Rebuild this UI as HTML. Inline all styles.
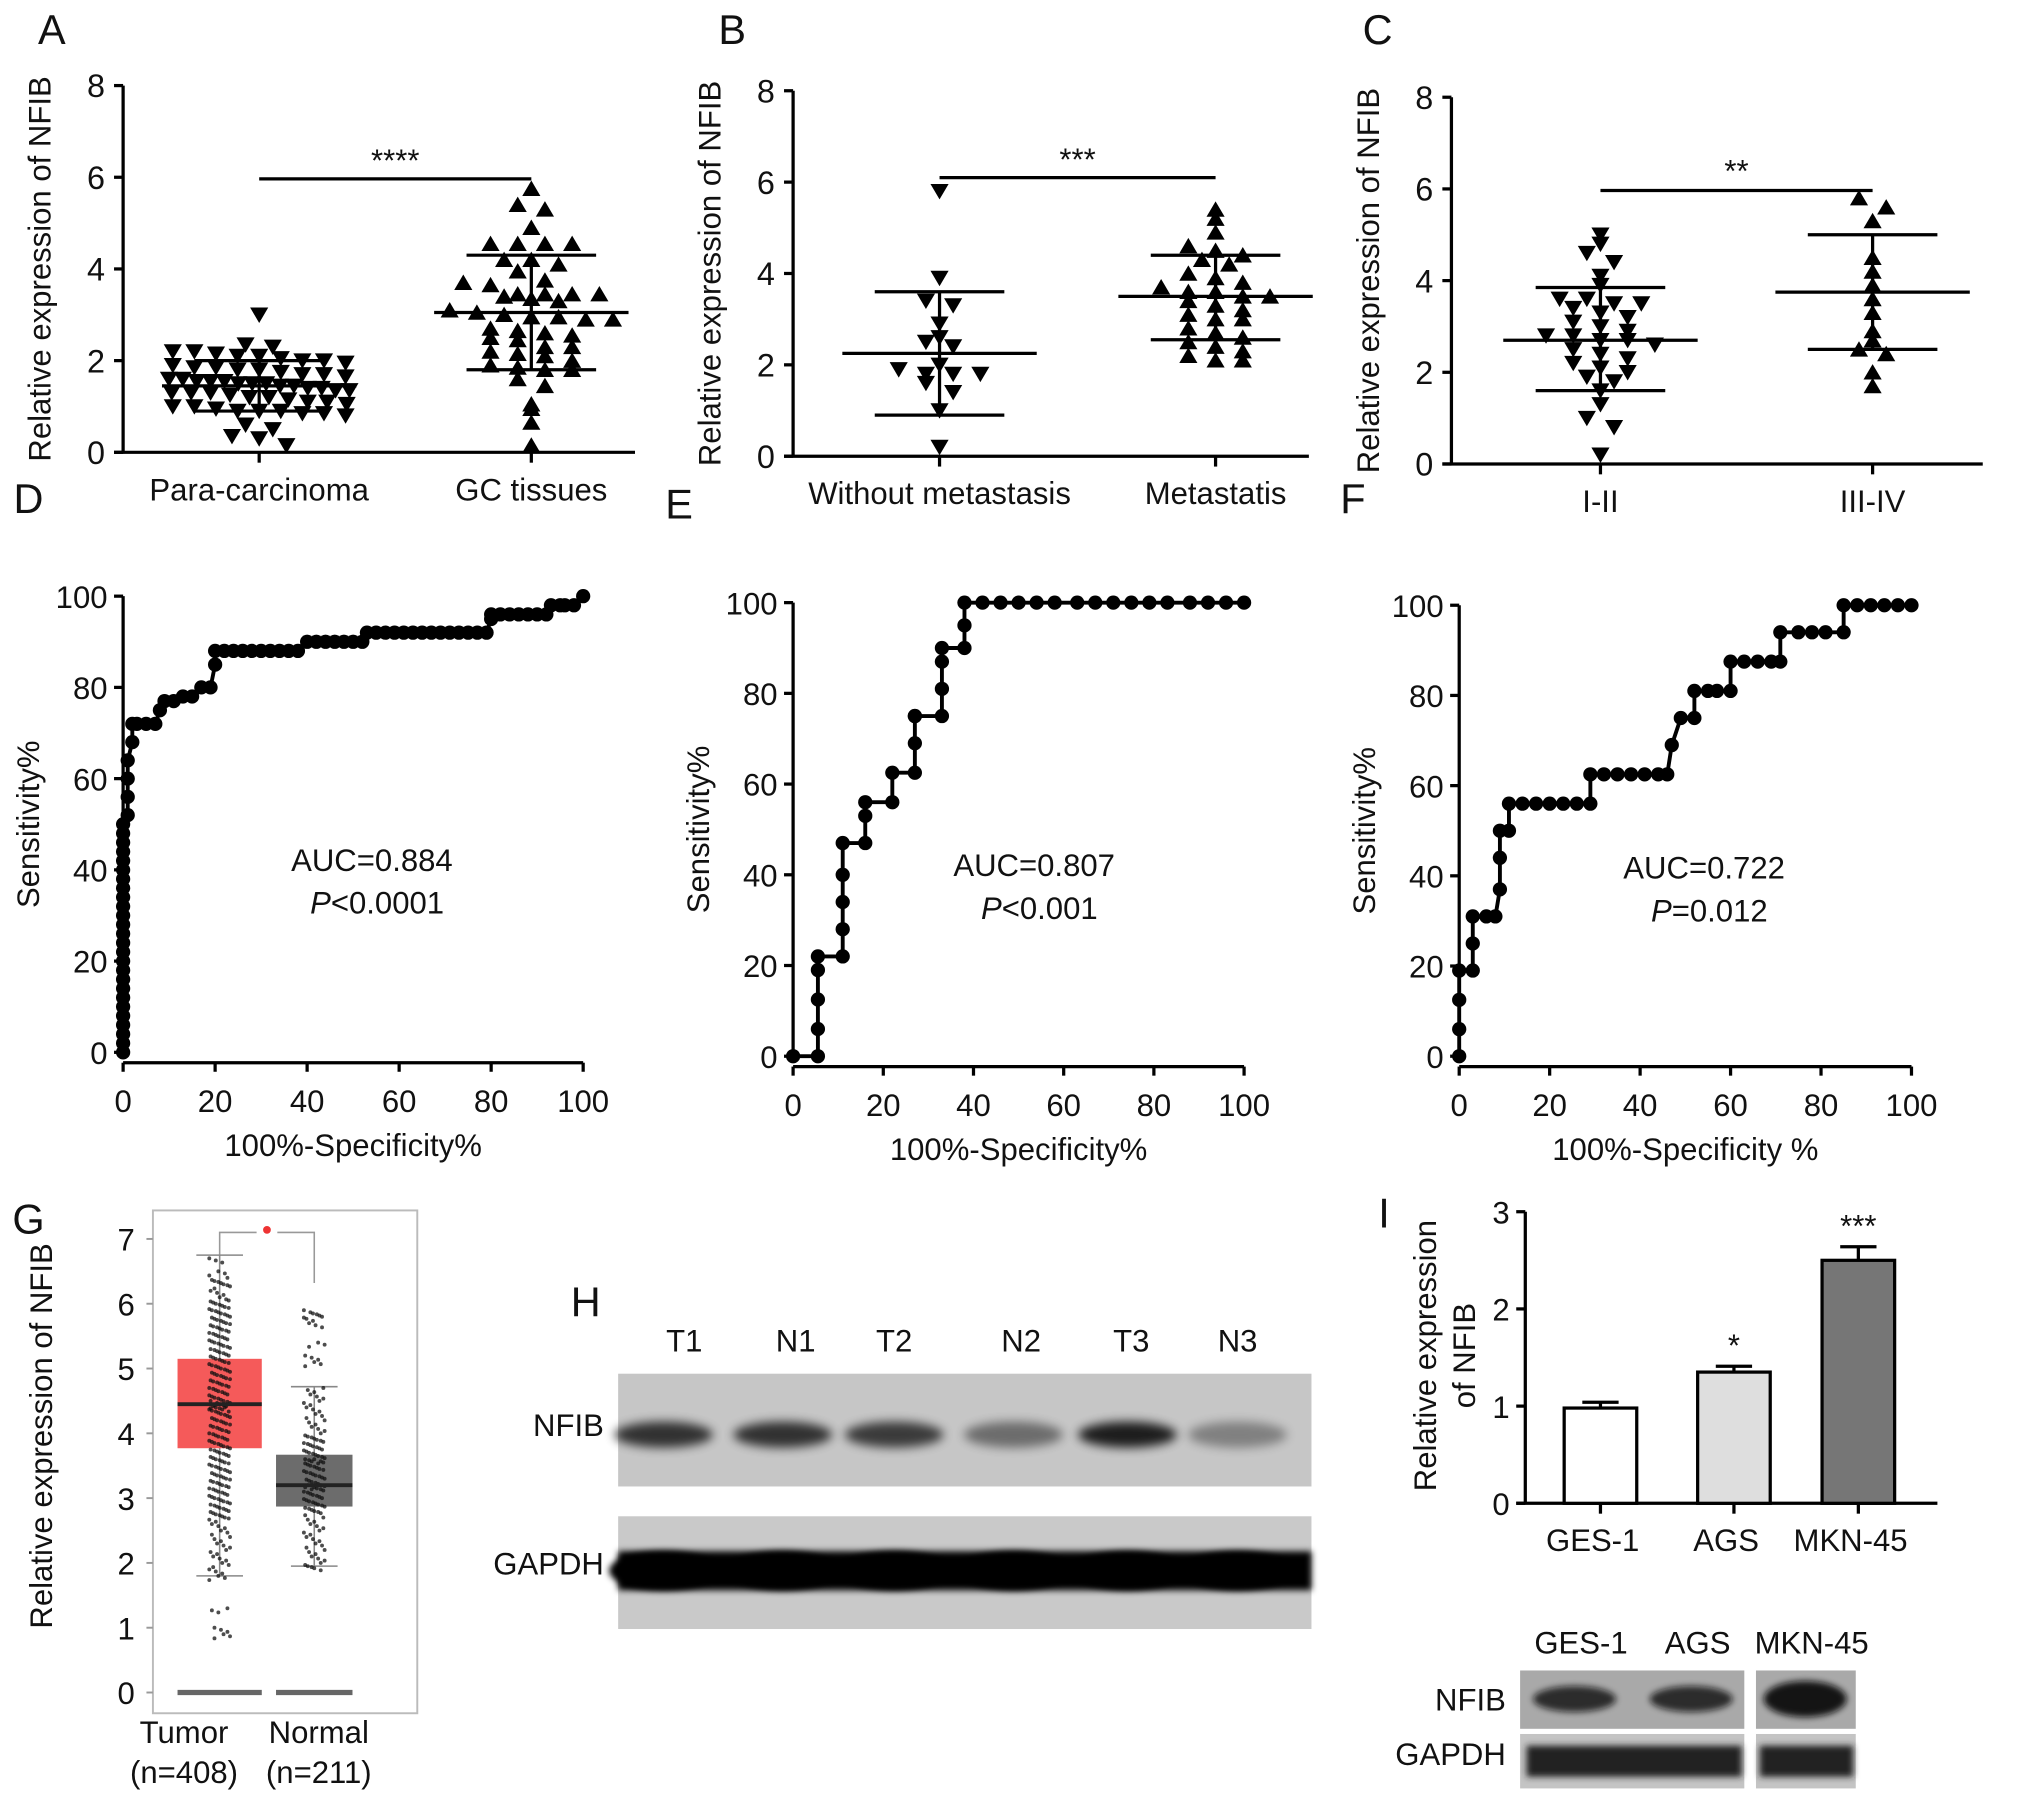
<!DOCTYPE html>
<html><head><meta charset="utf-8">
<style>
html,body{margin:0;padding:0;background:#fff;}
svg{display:block;font-family:"Liberation Sans",Arial,sans-serif;}
</style></head>
<body>
<svg id="fig" width="2032" height="1804" viewBox="0 0 1568 1392" xmlns="http://www.w3.org/2000/svg">
<defs>
<filter id="blur3" x="-20%" y="-50%" width="140%" height="200%"><feGaussianBlur stdDeviation="4"/></filter>
<filter id="blur2" x="-20%" y="-50%" width="140%" height="200%"><feGaussianBlur stdDeviation="2.5"/></filter>
</defs>
</svg>
<script>
// ---------- DATA ----------
const scatterCatsA = ["Para-carcinoma","GC tissues"];
const paraValues = [3.0,2.35,2.3,2.2,2.2,2.15,2.1,2.1,2.05,2.0,2.0,1.95,1.9,1.85,1.85,1.8,1.8,1.75,1.7,1.7,1.65,1.6,1.6,1.55,1.55,1.55,1.5,1.5,1.5,1.45,1.45,1.4,1.4,1.35,1.35,1.3,1.3,1.3,1.25,1.2,1.2,1.15,1.1,1.1,1.05,1.0,1.0,0.95,0.9,0.9,0.9,0.85,0.85,0.8,0.6,0.5,0.35,0.3,0.15];
const gcValues = [5.75,5.4,5.3,4.9,4.55,4.55,4.55,4.55,4.2,4.2,4.1,3.95,3.75,3.7,3.65,3.45,3.45,3.45,3.45,3.4,3.35,3.3,3.1,3.05,3.0,2.95,2.95,2.9,2.9,2.7,2.65,2.6,2.55,2.5,2.45,2.3,2.3,2.2,2.15,2.1,2.0,1.9,1.85,1.8,1.8,1.6,1.45,1.05,0.95,0.65,0.15];
const statsA = [[1.45,2.0,0.9],[3.05,4.3,1.8]];
const scatterCatsB = ["Without metastasis","Metastatis"];
const noMetValues = [5.8,3.9,3.4,3.3,2.9,2.6,2.5,2.4,2.0,1.9,1.8,1.8,1.8,1.6,1.4,1.0,0.2];
const metValues = [5.4,5.2,4.9,4.6,4.5,4.4,4.3,4.2,4.0,3.9,3.8,3.7,3.6,3.6,3.5,3.5,3.4,3.3,3.2,3.1,3.0,3.0,2.8,2.7,2.6,2.5,2.4,2.3,2.2,2.1,2.1];
const statsB = [[2.25,3.6,0.9],[3.5,4.4,2.55]];
const scatterCatsC = ["I-II","III-IV"];
const stage12Values = [5.0,4.8,4.6,4.4,4.1,3.9,3.6,3.6,3.5,3.5,3.4,3.3,3.2,3.1,3.0,2.9,2.8,2.8,2.7,2.7,2.6,2.5,2.4,2.3,2.2,2.1,2.0,1.9,1.8,1.6,1.3,1.0,0.8,0.2];
const stage34Values = [5.8,5.6,5.3,4.5,4.2,3.9,3.6,3.3,2.9,2.7,2.5,2.4,2.0,1.7];
const statsC = [[2.7,3.85,1.6],[3.75,5.0,2.5]];
const scatterTicks = [0,2,4,6,8];

const rocTicks = [0,20,40,60,80,100];
const rocDx = [0,0,0,0,0,0,0,0,0,0,0,0,0,0,0,0,0,0,0,0,0,0,0,0,0,0,1,1,1,1,2,2,3,5,7,8,9,11,13,15,17,19,20,20,22,24,26,28,30,32,34,36,38,40,42,44,46,48,50,52,53,55,57,59,61,63,65,67,69,71,73,75,77,79,80,80,82,84,86,88,90,92,93,95,96,98,100];
const rocDy = [0,2,4,6,8,10,12,14,16,18,20,22,24,26,28,30,32,34,36,38,40,42,44,46,48,50,52,56,60,64,68,72,72,72,72,75,77,77,78,78,80,80,85,88,88,88,88,88,88,88,88,88,88,90,90,90,90,90,90,90,92,92,92,92,92,92,92,92,92,92,92,92,92,92,95,96,96,96,96,96,96,96,98,98,98,98,100];
const rocEx = [0,5.5,5.5,5.5,5.5,5.5,11,11,11,11,11,16,16,16,22,22,27,27,27,27,33,33,33,33,38,38,38,42,46,50,54,58,63,67,71,75,79,83,88,92,96,100];
const rocEy = [0,0,6,12.5,19,22,22,28,34,40,47,47,53,56,56,62.5,62.5,69,75,75,75,81,87,90,90,95,100,100,100,100,100,100,100,100,100,100,100,100,100,100,100,100];
const rocFx = [0,0,0,0,3,3,3,6,8,9,9,9,11,11,14,17,20,23,26,29,29,32,35,38,41,44,46,47,49,52,52,55,57,60,60,63,66,69,71,71,75,78,81,85,85,88,91,94,97,100];
const rocFy = [0,6,12.5,19,19,25,31,31,31,37,44,50,50,56,56,56,56,56,56,56,62.5,62.5,62.5,62.5,62.5,62.5,62.5,69,75,75,81,81,81,81,87.5,87.5,87.5,87.5,87.5,94,94,94,94,94,100,100,100,100,100,100];

const boxCats = ["Tumor","Normal"];
const boxStats = [[1.8,3.77,4.45,5.15,6.75],[1.95,2.87,3.2,3.67,4.72]];
const tumorPts = [6.7,6.5,6.4,6.35,6.3,6.2,6.1,6.05,6.0,5.95,5.9,5.85,5.8,5.75,5.7,5.65,5.6,5.55,5.5,5.45,5.4,5.35,5.3,5.25,5.2,5.15,5.1,5.05,5.0,4.95,4.9,4.85,4.8,4.75,4.7,4.65,4.6,4.55,4.5,4.5,4.45,4.45,4.4,4.4,4.35,4.3,4.25,4.2,4.15,4.1,4.05,4.0,3.95,3.9,3.85,3.8,3.75,3.7,3.65,3.6,3.55,3.5,3.45,3.4,3.35,3.3,3.25,3.2,3.15,3.1,3.05,3.0,2.95,2.9,2.85,2.8,2.75,2.7,2.6,2.5,2.4,2.3,2.2,2.1,2.0,1.9,1.8,1.3,1.0,0.9];
const normalPts = [5.9,5.85,5.8,5.7,5.4,5.2,5.1,4.7,4.6,4.5,4.4,4.3,4.2,4.1,4.0,3.95,3.9,3.85,3.8,3.75,3.7,3.65,3.6,3.6,3.55,3.5,3.45,3.4,3.35,3.3,3.25,3.2,3.2,3.15,3.1,3.05,3.0,2.95,2.9,2.85,2.8,2.7,2.6,2.5,2.4,2.3,2.2,2.1,2.0,1.95];
const boxTicks = [0,1,2,3,4,5,6,7];

const blotLanes = ["T1","N1","T2","N2","T3","N3"];
const nfibIntensity = [0.75,0.75,0.7,0.45,0.85,0.35];

const barCats = ["GES-1","AGS","MKN-45"];
const barValues = [0.98,1.35,2.5];
const barErrors = [0.06,0.06,0.14];
const barStars = ["","*","***"];
const barFills = ["#ffffff","#dedede","#767676"];
const barTicks = [0,1,2,3];

// ---------- HELPERS ----------
const NS="http://www.w3.org/2000/svg";
const svg=document.getElementById('fig');
function el(tag,attrs,parent,text){const e=document.createElementNS(NS,tag);for(const k in attrs)e.setAttribute(k,attrs[k]);if(text!==undefined)e.textContent=text;(parent||svg).appendChild(e);return e;}
function grp(name){const g=el('g',{});return g;}
function line(g,x1,y1,x2,y2,w,c){return el('line',{x1,y1,x2,y2,stroke:c||'#000','stroke-width':w||2.5},g);}
function text(g,x,y,s,size,anchor,extra){const a=Object.assign({x,y,'font-size':size||23,'text-anchor':anchor||'middle',fill:'#111'},extra||{});return el('text',a,g,s);}
function letter(s,x,y){const t=text(svg,x,y,s,32,'middle');}

// ---------- SCATTER PANELS ----------
function scatterPanel(name,ax,y0,y8,xEnd,cx,cats,series,stats,shapes,title,sig,sigY,starY){
  const g=grp(name);
  const ys=v=>y0-(y0-y8)*v/8;
  const ya=grp(name+'-y-axis');g.appendChild(ya);
  line(ya,ax,y8,ax,y0+1,2.5);
  scatterTicks.forEach(t=>{line(ya,ax-7,ys(t),ax,ys(t),2.5);const tl=text(ya,ax-14,ys(t)+9,String(t),25,'end');});
  const xa=grp(name+'-x-axis');g.appendChild(xa);
  line(xa,ax-7,y0,xEnd,y0,2.5);
  cats.forEach((c,i)=>{line(xa,cx[i],y0,cx[i],y0+8,2.5);const tl=text(xa,cx[i],y0+37,c,24);});
  const yt=text(g,0,0,title,24,'middle',{transform:`translate(${ax-56},${(y0+y8)/2}) rotate(-90)`});
  
  series.forEach((vals,i)=>{
    const sg=grp(name+'-series-'+i);g.appendChild(sg);
    const bins={};
    vals.forEach(v=>{const b=Math.round(v/0.3);(bins[b]=bins[b]||[]).push(v);});
    Object.keys(bins).forEach(b=>{const arr=bins[b];const n=arr.length;const sp=Math.min(21,150/Math.max(n,1));arr.forEach((v,j)=>{
      const off=(j-(n-1)/2)*sp;const x=cx[i]+off,y=ys(v);const s=7;
      const pts=shapes[i]==='down'?`${x-s},${y-s*0.8} ${x+s},${y-s*0.8} ${x},${y+s*0.9}`:`${x-s},${y+s*0.8} ${x+s},${y+s*0.8} ${x},${y-s*0.9}`;
      const p=el('polygon',{points:pts,fill:'#000'},sg);
      
    });});
    const st=stats[i];const eg=grp(name+'-errorbar-'+i);g.appendChild(eg);
    line(eg,cx[i]-75,ys(st[0]),cx[i]+75,ys(st[0]),2.5);
    line(eg,cx[i]-50,ys(st[1]),cx[i]+50,ys(st[1]),2.5);
    line(eg,cx[i]-50,ys(st[2]),cx[i]+50,ys(st[2]),2.5);
    line(eg,cx[i],ys(st[1]),cx[i],ys(st[2]),2.5);
  });
  const sg=grp(name+'-significance');g.appendChild(sg);
  line(sg,cx[0],sigY,cx[1],sigY,2.5);
  text(sg,(cx[0]+cx[1])/2,starY,sig,24);
}
letter('A',40,34);letter('B',565,34);letter('C',1063,34);
scatterPanel('panel-a',95,349,66,490,[200,410],scatterCatsA,[paraValues,gcValues],statsA,['down','up'],'Relative expression of NFIB','****',138,132);
scatterPanel('panel-b',612,352,70,1010,[725,938],scatterCatsB,[noMetValues,metValues],statsB,['down','up'],'Relative expression of NFIB','***',137,131);
scatterPanel('panel-c',1120,358,75,1530,[1235,1445],scatterCatsC,[stage12Values,stage34Values],statsC,['down','up'],'Relative expression of NFIB','**',147,140);

// ---------- ROC PANELS ----------
function rocPanel(name,ax,y0,y100,x100,xs,ys,auc,pText,xTitle,aucX,aucY){
  const g=grp(name);
  const sx=v=>ax+(x100-ax)*v/100, sy=v=>y0-(y0-y100)*v/100;
  const ya=grp(name+'-y-axis');g.appendChild(ya);
  line(ya,ax,y100,ax,y0,2.5);
  rocTicks.forEach(t=>{line(ya,ax-7,sy(t),ax,sy(t),2.5);const tl=text(ya,ax-12,sy(t)+9,String(t),24,'end');});
  const xa=grp(name+'-x-axis');g.appendChild(xa);
  const xay=y0+8;
  line(xa,ax,xay,x100,xay,2.5);
  rocTicks.forEach(t=>{line(xa,sx(t),xay,sx(t),xay+7,2.5);const tl=text(xa,sx(t),xay+38,String(t),24);});
  const xt=text(g,(ax+x100)/2,xay+72,xTitle,24);
  const yt=text(g,0,0,'Sensitivity%',24,'middle',{transform:`translate(${ax-65},${(y0+y100)/2}) rotate(-90)`});
  
  const d=xs.map((x,i)=>(i?'L':'M')+sx(x)+','+sy(ys[i])).join(' ');
  const p=el('path',{d,fill:'none',stroke:'#000','stroke-width':3},g);
  
  xs.forEach((x,i)=>{const c=el('circle',{cx:sx(x),cy:sy(ys[i]),r:5.5,fill:'#000'},g);});
  const a=text(g,aucX,aucY,auc,24);
  const pt=el('text',{x:aucX+4,y:aucY+33,'font-size':24,'text-anchor':'middle',fill:'#111'},g);
  
  el('tspan',{'font-style':'italic'},pt,'P');el('tspan',{},pt,pText);
}
letter('D',22,396);letter('E',524,400);letter('F',1044,396);
rocPanel('panel-d',95,812,460,450,rocDx,rocDy,'AUC=0.884','<0.0001','100%-Specificity%',287,672);
rocPanel('panel-e',612,815,465,960,rocEx,rocEy,'AUC=0.807','<0.001','100%-Specificity%',798,676);
rocPanel('panel-f',1126,815,467,1475,rocFx,rocFy,'AUC=0.722','=0.012','100%-Specificity %',1315,678);

// ---------- BOX PLOT G ----------
(function(){
  letter('G',22,952);
  const g=grp('panel-g-boxplot');
  const y0=1306,y7=956,sy=v=>y0-(y0-y7)*v/7;
  const fr=el('rect',{x:118,y:934,width:204,height:388,fill:'none',stroke:'#bbb','stroke-width':1.5},g);
  
  boxTicks.forEach(t=>{line(g,113,sy(t),118,sy(t),1.5,'#999');const tl=text(g,104,sy(t)+9,String(t),24,'end');});
  const yt=text(g,0,0,'Relative expression of NFIB',24,'middle',{transform:`translate(40,1108) rotate(-90)`});
  
  const fills=['#f55a5a','#6c6c6c'];
  const boxX=[[137,202],[213,272]];
  const labelX=[142,246];
  const pts=[tumorPts,normalPts];
  boxCats.forEach((c,i)=>{
    const [x1,x2]=boxX[i];const mid=(x1+x2)/2;const st=boxStats[i];
    const bg=grp('box-'+c.toLowerCase());g.appendChild(bg);
    line(bg,mid-18,sy(st[4]),mid+18,sy(st[4]),1.2,'#888');
    line(bg,mid-18,sy(st[0]),mid+18,sy(st[0]),1.2,'#888');
    line(bg,mid,sy(st[4]),mid,sy(st[0]),1.2,'#888');
    el('rect',{x:x1,y:sy(st[3]),width:x2-x1,height:sy(st[1])-sy(st[3]),fill:fills[i]},bg);
    pts[i].forEach((v,j)=>{[0,1,2].forEach(k=>{const c2=el('circle',{cx:mid+(((j*7+k*5)%17)-8)*1.0,cy:sy(v)+k*1.6,r:1.5,fill:'#111',opacity:0.75},bg);});});
    line(bg,x1,sy(st[2]),x2,sy(st[2]),3,'#222');
    line(bg,x1,y0,x2,y0,4,'#666');
    const tl=text(g,labelX[i],1345,c,24);
    const nl=text(g,labelX[i],1376,i?'(n=211)':'(n=408)',24);
  });
  const sg=grp('significance-bracket');g.appendChild(sg);
  el('path',{d:'M169.5,968 L169.5,951 L198,951 M214,951 L242.5,951 L242.5,990',fill:'none',stroke:'#999','stroke-width':1.2},sg);
  el('circle',{cx:206,cy:949,r:3,fill:'#e33'},sg);
})();

// ---------- WESTERN BLOT H ----------
(function(){
  letter('H',452,1016);
  const g=grp('panel-h-western-blot');
  blotLanes.forEach((l,i)=>{const x=[528,614,690,788,873,955][i];const t=text(g,x,1043,l,24);});
  const n=text(g,466,1108,'NFIB',24,'end');
  const gl=text(g,466,1215,'GAPDH',24,'end');
  el('rect',{x:477,y:1060,width:535,height:87,fill:'#c6c6c6'},g);
  el('rect',{x:477,y:1170,width:535,height:87,fill:'#c9c9c9'},g);
  const lx=[512,604,690,782,870,955];
  nfibIntensity.forEach((v,i)=>{const b=el('ellipse',{cx:lx[i],cy:1107,rx:38,ry:10,fill:'#000',opacity:v,filter:'url(#blur3)'},g);
    const b2=el('ellipse',{cx:lx[i],cy:1212,rx:42,ry:15,fill:'#000',filter:'url(#blur2)'},g);});
  el('rect',{x:477,y:1197,width:535,height:30,fill:'#050505',filter:'url(#blur2)'},g);
})();

// ---------- BAR CHART I ----------
(function(){
  letter('I',1068,947);
  const g=grp('panel-i-bar-chart');
  const ax=1177,y0=1160,y3=935,sy=v=>y0-(y0-y3)*v/3;
  const cx=[1235,1338,1434],bw=56;
  line(g,ax,y3,ax,y0,2.5);
  barTicks.forEach(t=>{line(g,ax-7,sy(t),ax,sy(t),2.5);const tl=text(g,ax-12,sy(t)+9,String(t),24,'end');});
  line(g,ax-7,y0,1495,y0,2.5);
  const yt=text(g,0,0,'Relative expression',24,'middle',{transform:`translate(1108,1046) rotate(-90)`});
  const yt2=text(g,0,0,'of NFIB',24,'middle',{transform:`translate(1138,1046) rotate(-90)`});
  barCats.forEach((c,i)=>{
    const b=el('rect',{x:cx[i]-bw/2,y:sy(barValues[i]),width:bw,height:y0-sy(barValues[i]),fill:barFills[i],stroke:'#000','stroke-width':2.5},g);
    
    const top=sy(barValues[i]+barErrors[i]);
    line(g,cx[i],sy(barValues[i]),cx[i],top,2.5);line(g,cx[i]-14,top,cx[i]+14,top,2.5);
    line(g,cx[i],y0,cx[i],y0+8,2.5);
    const tl=text(g,cx[i]-6,1197,c,24);
    if(barStars[i]){const s=text(g,cx[i],top-8,barStars[i],24);}
  });
  const wb=grp('panel-i-western-blot');
  [['GES-1',1220],['AGS',1310],['MKN-45',1398]].forEach(a=>{const t=text(wb,a[1],1276,a[0],24);});
  const r1=text(wb,1162,1320,'NFIB',24,'end');
  const r2=text(wb,1162,1362,'GAPDH',24,'end');
  el('rect',{x:1173,y:1289,width:173,height:45,fill:'#a9a9a9'},wb);
  el('rect',{x:1355,y:1289,width:77,height:45,fill:'#a9a9a9'},wb);
  el('rect',{x:1173,y:1338,width:173,height:42,fill:'#c4c4c4'},wb);
  el('rect',{x:1355,y:1338,width:77,height:42,fill:'#c4c4c4'},wb);
  [[1215,0.8],[1305,0.8],[1393,0.95]].forEach(b=>el('ellipse',{cx:b[0],cy:1311,rx:32,ry:b[0]>1350?14:10,fill:'#111',opacity:b[1],filter:'url(#blur2)'},wb));
  el('rect',{x:1178,y:1347,width:166,height:24,fill:'#222',filter:'url(#blur2)'},wb);
  el('rect',{x:1358,y:1347,width:72,height:24,fill:'#222',filter:'url(#blur2)'},wb);
})();
</script>
</body></html>
